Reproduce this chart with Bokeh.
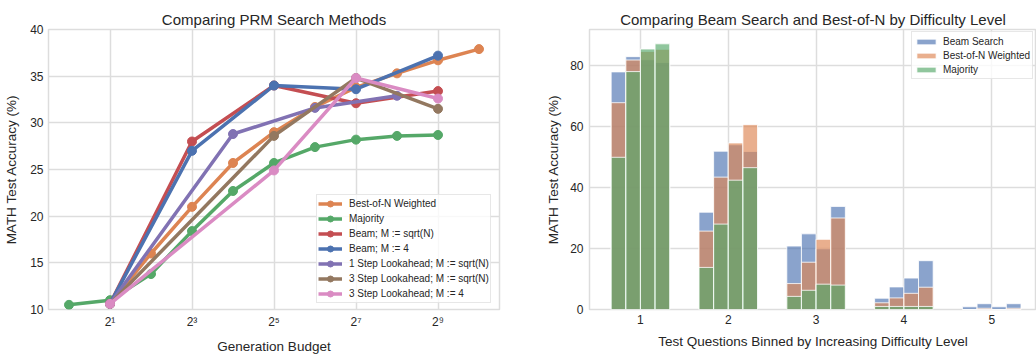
from bokeh.plotting import figure
from bokeh.layouts import row
from bokeh.models import Range1d, FixedTicker, Legend, LegendItem
from bokeh.embed import file_html
from bokeh.resources import INLINE

FONT = "Liberation Sans"
TEXT = "#262626"
GRID = "#dddddd"

# ---------------- Left chart data: Comparing PRM Search Methods ----------------
left_title = "Comparing PRM Search Methods"
left_xlabel = "Generation Budget"
left_ylabel = "MATH Test Accuracy (%)"
left_xticks = [2, 8, 32, 128, 512]
left_xtick_labels = ["2\u00b9", "2\u00b3", "2\u2075", "2\u2077", "2\u2079"]
left_yticks = [10, 15, 20, 25, 30, 35, 40]

bon_x = [2, 4, 8, 16, 32, 64, 128, 256, 512, 1024]
bon_y = [10.6, 16.0, 21.0, 25.7, 29.0, 31.7, 33.8, 35.3, 36.7, 37.9]

maj_x = [1, 2, 4, 8, 16, 32, 64, 128, 256, 512]
maj_y = [10.5, 11.0, 13.8, 18.4, 22.7, 25.7, 27.4, 28.2, 28.6, 28.7]

beam_sqrt_x = [2, 8, 32, 128, 512]
beam_sqrt_y = [10.6, 28.0, 34.0, 32.1, 33.4]

beam4_x = [2, 8, 32, 128, 512]
beam4_y = [10.6, 27.0, 34.0, 33.6, 37.2]

la1_sqrt_x = [2, 16, 64, 256]
la1_sqrt_y = [10.6, 28.8, 31.6, 32.9]

la3_sqrt_x = [2, 32, 128, 512]
la3_sqrt_y = [10.6, 28.6, 34.8, 31.5]

la3_4_x = [2, 32, 128, 512]
la3_4_y = [10.6, 24.9, 34.8, 32.6]

line_names = [
    "Best-of-N Weighted",
    "Majority",
    "Beam; M := sqrt(N)",
    "Beam; M := 4",
    "1 Step Lookahead; M := sqrt(N)",
    "3 Step Lookahead; M := sqrt(N)",
    "3 Step Lookahead; M := 4",
]
line_colors = ["#DD8452", "#55A868", "#C44E52", "#4C72B0", "#8172B3", "#937860", "#DA8BC3"]

# ---------------- Right chart data: by difficulty level ----------------
right_title = "Comparing Beam Search and Best-of-N by Difficulty Level"
right_xlabel = "Test Questions Binned by Increasing Difficulty Level"
right_ylabel = "MATH Test Accuracy (%)"
levels = [1, 2, 3, 4, 5]
right_yticks = [0, 20, 40, 60, 80]

# four bars per level (increasing generation budget)
beam_search = [
    [77.9, 82.9, 81.9, 81.0],
    [31.9, 51.9, 54.0, 51.8],
    [20.8, 24.8, 19.9, 33.8],
    [3.7, 7.4, 10.3, 16.0],
    [0.9, 1.9, 0.9, 1.9],
]
best_of_n = [
    [67.8, 81.8, 84.6, 85.3],
    [25.7, 43.4, 54.6, 60.6],
    [8.5, 15.5, 23.0, 30.0],
    [2.2, 3.8, 5.3, 7.3],
    [0.0, 0.4, 0.0, 0.4],
]
majority = [
    [49.9, 78.0, 85.4, 87.1],
    [13.8, 28.0, 42.4, 46.5],
    [4.3, 6.3, 8.3, 8.0],
    [1.0, 1.0, 1.0, 1.0],
    [0.0, 0.0, 0.0, 0.0],
]
bar_names = ["Beam Search", "Best-of-N Weighted", "Majority"]
bar_colors = ["#4C72B0", "#DD8452", "#55A868"]


def style(p):
    p.title.text_font = FONT
    p.title.text_font_size = "15px"
    p.title.text_font_style = "normal"
    p.title.text_color = TEXT
    p.title.align = "center"
    p.title.vertical_align = "top"
    p.title.text_line_height = 1.8
    p.title.standoff = 0
    p.outline_line_color = GRID
    p.outline_line_width = 1.5
    p.background_fill_color = "white"
    p.border_fill_color = "white"
    for ax in p.axis:
        ax.major_tick_line_color = None
        ax.minor_tick_line_color = None
        ax.major_tick_out = 0
        ax.major_tick_in = 0
        ax.minor_tick_out = 0
        ax.minor_tick_in = 0
        ax.axis_line_color = None
        ax.major_label_text_font = FONT
        ax.major_label_text_font_size = "12px"
        ax.major_label_text_color = TEXT
        ax.axis_label_text_font = FONT
        ax.axis_label_text_font_size = "13.5px"
        ax.axis_label_text_font_style = "normal"
        ax.axis_label_text_color = TEXT
    for g in p.grid:
        g.grid_line_color = GRID
        g.grid_line_width = 1.5


W_LEFT, W_RIGHT, H = 520, 516, 356

# ---------------- Left figure ----------------
left = figure(
    width=W_LEFT, height=H, title=left_title,
    x_axis_type="log",
    x_range=Range1d(2 ** -0.5, 2 ** 10.5), y_range=Range1d(10, 40),
    output_backend="svg", toolbar_location=None,
    min_border_left=48, min_border_right=21, min_border_top=29, min_border_bottom=44,
)
style(left)
left.xaxis.ticker = FixedTicker(ticks=left_xticks)
left.xaxis.major_label_overrides = {t: lab for t, lab in zip(left_xticks, left_xtick_labels)}
left.yaxis.ticker = FixedTicker(ticks=left_yticks)
left.xaxis.axis_label = left_xlabel
left.yaxis.axis_label = left_ylabel
left.xaxis.major_label_standoff = 5
left.xaxis.axis_label_standoff = 7
left.yaxis.major_label_standoff = 5
left.yaxis.axis_label_standoff = 8

series = [
    (bon_x, bon_y), (maj_x, maj_y), (beam_sqrt_x, beam_sqrt_y), (beam4_x, beam4_y),
    (la1_sqrt_x, la1_sqrt_y), (la3_sqrt_x, la3_sqrt_y), (la3_4_x, la3_4_y),
]
items = []
for (xs, ys), name, col in zip(series, line_names, line_colors):
    rl = left.line(xs, ys, line_color=col, line_width=3.5)
    rs = left.scatter(xs, ys, size=9, fill_color=col, line_color=col)
    items.append(LegendItem(label=name, renderers=[rl, rs]))

leg = Legend(items=items, location=(268, 6))
leg.label_text_font = FONT
leg.label_text_font_size = "10px"
leg.label_text_color = TEXT
leg.glyph_width = 24
leg.glyph_height = 15
leg.label_height = 15
leg.label_standoff = 7
leg.spacing = 0
leg.padding = 1
leg.margin = 0
leg.border_line_color = "#d0d0d0"
leg.border_line_width = 1
leg.background_fill_alpha = 0.8
left.add_layout(leg)

# ---------------- Right figure ----------------
right = figure(
    width=W_RIGHT, height=H, title=right_title,
    x_range=Range1d(0.42, 5.51), y_range=Range1d(0, 91.8),
    output_backend="svg", toolbar_location=None,
    min_border_left=69, min_border_right=0, min_border_top=29, min_border_bottom=44,
)
style(right)
right.xaxis.ticker = FixedTicker(ticks=levels)
right.yaxis.ticker = FixedTicker(ticks=right_yticks)
right.xaxis.axis_label = right_xlabel
right.yaxis.axis_label = right_ylabel
right.xaxis.major_label_standoff = 5
right.xaxis.axis_label_standoff = 7
right.yaxis.major_label_standoff = 6
right.yaxis.axis_label_standoff = 6

offsets = [-0.25, -1.0 / 12, 1.0 / 12, 0.25]
bar_w = 1.0 / 6
bar_items = []
for data, name, col in zip([beam_search, best_of_n, majority], bar_names, bar_colors):
    xs, tops = [], []
    for lvl, vals in zip(levels, data):
        for off, v in zip(offsets, vals):
            xs.append(lvl + off)
            tops.append(v)
    r = right.vbar(x=xs, top=tops, bottom=0, width=bar_w, fill_color=col, fill_alpha=0.65,
                   line_color="white", line_width=1, line_alpha=0.8)
    bar_items.append(LegendItem(label=name, renderers=[r]))

leg2 = Legend(items=bar_items, location=(322, 230))
leg2.label_text_font = FONT
leg2.label_text_font_size = "10px"
leg2.label_text_color = TEXT
leg2.glyph_width = 24
leg2.glyph_height = 7
leg2.label_height = 14
leg2.label_standoff = 5
leg2.spacing = 0
leg2.padding = 2
leg2.margin = 0
leg2.border_line_color = "#d0d0d0"
leg2.border_line_width = 1
leg2.background_fill_alpha = 0.8
right.add_layout(leg2)

layout = row(left, right)
open("out.html", "w").write(file_html(layout, INLINE))
